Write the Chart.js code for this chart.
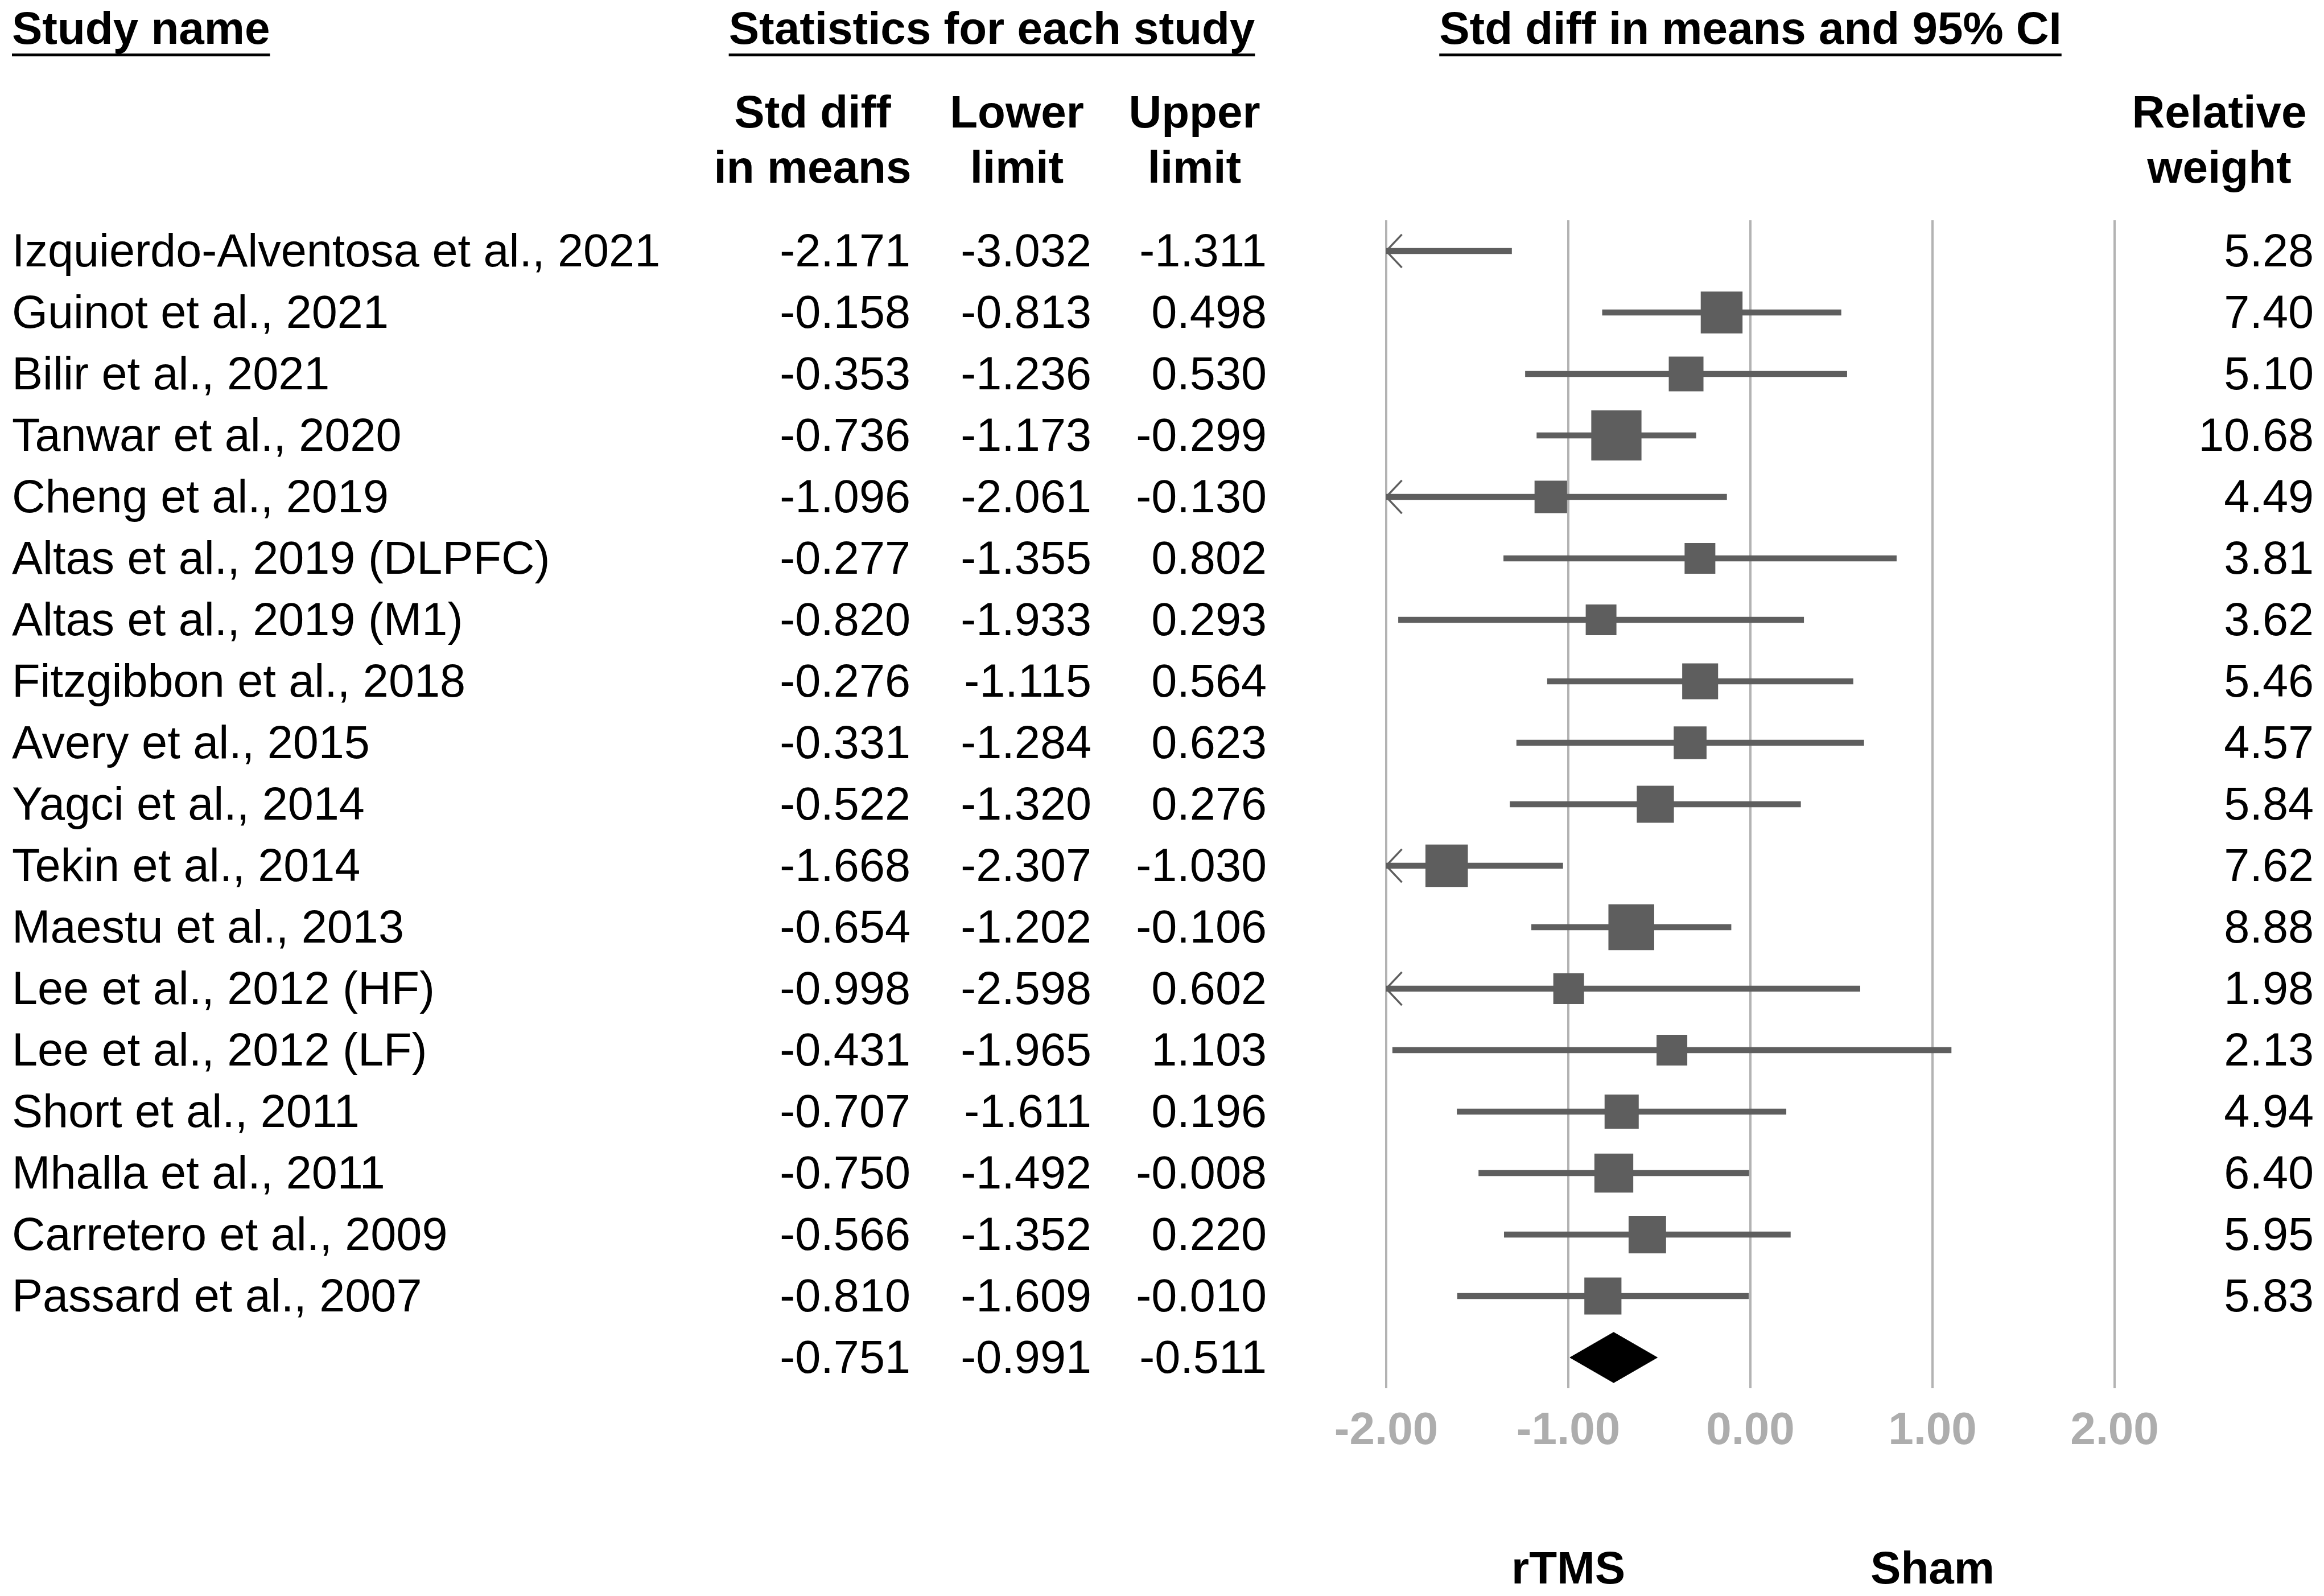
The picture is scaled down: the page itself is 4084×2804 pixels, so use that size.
<!DOCTYPE html>
<html>
<head>
<meta charset="utf-8">
<title>Forest plot - rTMS vs Sham</title>
<script src="https://cdn.jsdelivr.net/npm/chart.js@4.4.0/dist/chart.umd.min.js"></script>
<style>
	html, body { margin: 0; padding: 0; background: #fff; }
	#wrap { width: 4084px; height: 2804px; }
</style>
</head>
<body>
<div id="wrap"><canvas id="forestCanvas"></canvas></div>
<script>
// forest plot - std diff in means, rTMS vs sham
// study rows (top to bottom)
var studyNames = [
	'Izquierdo-Alventosa et al., 2021',
	'Guinot et al., 2021',
	'Bilir et al., 2021',
	'Tanwar et al., 2020',
	'Cheng et al., 2019',
	'Altas et al., 2019 (DLPFC)',
	'Altas et al., 2019 (M1)',
	'Fitzgibbon et al., 2018',
	'Avery et al., 2015',
	'Yagci et al., 2014',
	'Tekin et al., 2014',
	'Maestu et al., 2013',
	'Lee et al., 2012 (HF)',
	'Lee et al., 2012 (LF)',
	'Short et al., 2011',
	'Mhalla et al., 2011',
	'Carretero et al., 2009',
	'Passard et al., 2007'
];
var stdDiff = [-2.171, -0.158, -0.353, -0.736, -1.096, -0.277, -0.820, -0.276, -0.331, -0.522, -1.668, -0.654, -0.998, -0.431, -0.707, -0.750, -0.566, -0.810];
var lowerLimit = [-3.032, -0.813, -1.236, -1.173, -2.061, -1.355, -1.933, -1.115, -1.284, -1.320, -2.307, -1.202, -2.598, -1.965, -1.611, -1.492, -1.352, -1.609];
var upperLimit = [-1.311, 0.498, 0.530, -0.299, -0.130, 0.802, 0.293, 0.564, 0.623, 0.276, -1.030, -0.106, 0.602, 1.103, 0.196, -0.008, 0.220, -0.010];
var relWeight = [5.28, 7.40, 5.10, 10.68, 4.49, 3.81, 3.62, 5.46, 4.57, 5.84, 7.62, 8.88, 1.98, 2.13, 4.94, 6.40, 5.95, 5.83];
// overall effect: estimate, lower, upper
var summaryStat = [-0.751, -0.991, -0.511];
// x axis ticks
var xTicks = [-2, -1, 0, 1, 2];
// labels under the axis, at -1 and +1
var favourLabels = ['rTMS', 'Sham'];
var favourAt = [-1, 1];

var xMin = xTicks[0];
var xMax = xTicks[xTicks.length - 1];
var summaryRow = studyNames.length;
var markColor = '#5e5e5e';
var fontFam = '"Liberation Sans", Arial, sans-serif';
Chart.defaults.font.family = fontFam;

//CI bars (floating)
var ciData = [];
//weighted squares
var boxData = [];
var boxRadius = [];
//arrows for CI running off the left edge
var arrowData = [];
for (var i in studyNames) {
	i = parseInt(i);
	ciData.push({x: [lowerLimit[i], upperLimit[i]], y: i});
	if (stdDiff[i] >= xMin && stdDiff[i] <= xMax) {
		boxData.push({x: stdDiff[i], y: i});
	} else {
		boxData.push({x: null, y: i});
	}
	// square side ~ sqrt(weight), small ones kept readable
	var side = Math.max(54, 27 * Math.sqrt(relWeight[i]));
	boxRadius.push(side / Math.SQRT2);
	if (lowerLimit[i] < xMin) {
		arrowData.push({x: xMin + 0.086, y: i - 0.27});
		arrowData.push({x: xMin, y: i});
		arrowData.push({x: xMin + 0.086, y: i + 0.27});
		arrowData.push({x: null, y: null});
	}
}
//summary diamond
var dh = 0.41;
var diamondData = [
	{x: summaryStat[1], y: summaryRow},
	{x: summaryStat[0], y: summaryRow - dh},
	{x: summaryStat[2], y: summaryRow},
	{x: summaryStat[0], y: summaryRow + dh},
	{x: summaryStat[1], y: summaryRow}
];

//text columns drawn around the plot
var tablePlugin = {
	id: 'forestTable',
	afterDraw: function(chart) {
		var ctx = chart.ctx;
		var ys = chart.scales.y;
		var xs = chart.scales.x;
		ctx.save();
		ctx.fillStyle = '#000';
		ctx.textBaseline = 'alphabetic';

		// headers with underline
		ctx.font = 'bold 80px ' + fontFam;
		var heads = [
			['Study name', 21, 'left'],
			['Statistics for each study', 1743, 'center'],
			['Std diff in means and 95% CI', (chart.chartArea.left + chart.chartArea.right) / 2, 'center']
		];
		for (var h in heads) {
			var t = heads[h];
			ctx.textAlign = t[2];
			ctx.fillText(t[0], t[1], 77);
			var w = ctx.measureText(t[0]).width;
			var x0 = t[2] == 'left' ? t[1] : t[1] - w / 2;
			ctx.fillRect(x0, 94, w, 5);
		}

		// sub headers
		ctx.textAlign = 'center';
		var subs = [
			['Std diff', 'in means', 1428],
			['Lower', 'limit', 1787],
			['Upper', 'limit', 2099],
			['Relative', 'weight', 3900]
		];
		for (var s in subs) {
			ctx.fillText(subs[s][0], subs[s][2], 224);
			ctx.fillText(subs[s][1], subs[s][2], 321);
		}

		// study rows
		ctx.font = '81px ' + fontFam;
		for (var r in studyNames) {
			r = parseInt(r);
			var yy = ys.getPixelForValue(r) + 27;
			ctx.textAlign = 'left';
			ctx.fillText(studyNames[r], 21, yy);
			ctx.textAlign = 'right';
			ctx.fillText(stdDiff[r].toFixed(3), 1600, yy);
			ctx.fillText(lowerLimit[r].toFixed(3), 1918, yy);
			ctx.fillText(upperLimit[r].toFixed(3), 2226, yy);
			ctx.fillText(relWeight[r].toFixed(2), 4066, yy);
		}
		// summary row
		var ysum = ys.getPixelForValue(summaryRow) + 27;
		ctx.fillText(summaryStat[0].toFixed(3), 1600, ysum);
		ctx.fillText(summaryStat[1].toFixed(3), 1918, ysum);
		ctx.fillText(summaryStat[2].toFixed(3), 2226, ysum);

		// favours labels
		ctx.font = 'bold 80px ' + fontFam;
		ctx.textAlign = 'center';
		for (var f in favourLabels) {
			ctx.fillText(favourLabels[f], xs.getPixelForValue(favourAt[f]), 2782);
		}
		ctx.restore();
	}
};

var ctx = document.getElementById('forestCanvas');
var forestChart = new Chart(ctx, {
	type: 'scatter',
	data: {
		datasets: [
			{
				type: 'bar',
				label: 'CI',
				indexAxis: 'y',
				data: ciData,
				backgroundColor: markColor,
				borderWidth: 0,
				barThickness: 10,
				order: 4
			},
			{
				label: 'arrows',
				data: arrowData,
				showLine: true,
				spanGaps: false,
				borderColor: markColor,
				borderWidth: 3.5,
				pointRadius: 0,
				pointHoverRadius: 0,
				order: 3
			},
			{
				label: 'Std diff in means',
				data: boxData,
				pointStyle: 'rect',
				pointRadius: boxRadius,
				pointHoverRadius: boxRadius,
				backgroundColor: markColor,
				borderWidth: 0,
				order: 2
			},
			{
				label: 'Overall',
				data: diamondData,
				showLine: true,
				fill: 'shape',
				backgroundColor: '#000',
				borderColor: '#000',
				borderWidth: 1,
				pointRadius: 0,
				pointHoverRadius: 0,
				order: 1
			}
		]
	},
	options: {
		responsive: true,
		maintainAspectRatio: false,
		devicePixelRatio: 1,
		animation: false,
		events: [],
		layout: {
			padding: {left: 2436, right: 368, top: 387, bottom: 165}
		},
		plugins: {
			legend: {display: false},
			tooltip: {enabled: false}
		},
		scales: {
			x: {
				type: 'linear',
				min: xMin,
				max: xMax,
				beginAtZero: false,
				offset: false,
				afterBuildTicks: function(scale) {
					scale.ticks = xTicks.map(function(v) { return {value: v}; });
				},
				afterFit: function(scale) {
					scale.height = 200;
				},
				ticks: {
					callback: function(v) { return Number(v).toFixed(2); },
					color: '#adadad',
					padding: 28,
					maxRotation: 0,
					font: {size: 80, weight: 'bold'}
				},
				grid: {
					color: '#b3b3b3',
					lineWidth: 4,
					drawTicks: false,
					offset: false
				},
				border: {display: false}
			},
			y: {
				type: 'linear',
				reverse: true,
				min: -0.5,
				max: summaryRow + 0.5,
				offset: false,
				display: false,
				grid: {offset: false}
			}
		}
	},
	plugins: [tablePlugin]
});
</script>
</body>
</html>
